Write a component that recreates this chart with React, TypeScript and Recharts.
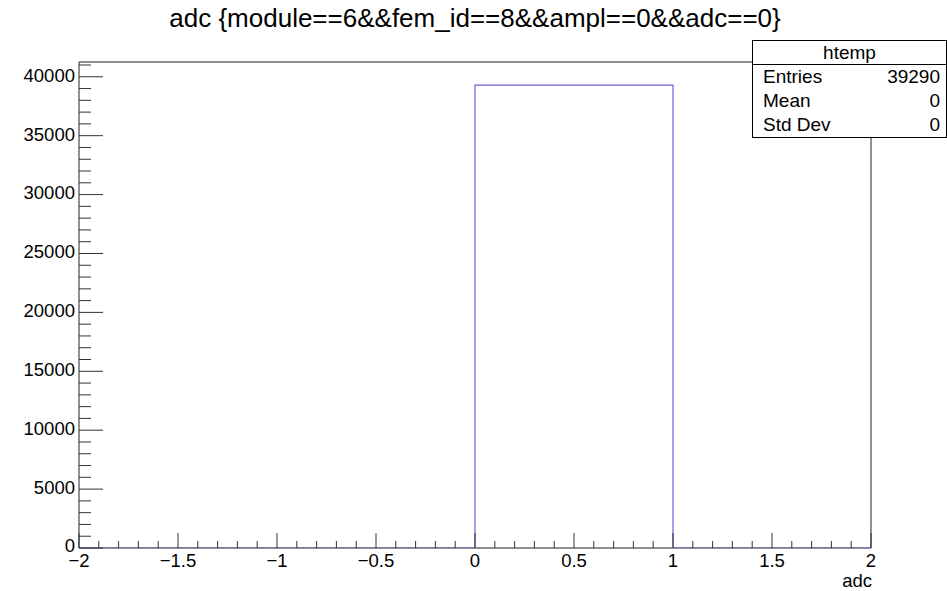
import React from "react";
import {
  ComposedChart,
  Line,
  XAxis,
  YAxis,
  ReferenceArea,
} from "recharts";

// Histogram "htemp": bin edges and counts
const binEdges = [-2, -1, 0, 1, 2];
const binCounts = [0, 0, 39290, 0, 0];

// Axis tick positions
const xMajorTicks = [-2, -1.5, -1, -0.5, 0, 0.5, 1, 1.5, 2];
const yMajorTicks = [0, 5000, 10000, 15000, 20000, 25000, 30000, 35000, 40000];

// Statistics box
const statsTitle = "htemp";
const statsLabels = ["Entries", "Mean", "Std Dev"];
const statsValues = ["39290", "0", "0"];

const chartTitle = "adc {module==6&&fem_id==8&&ampl==0&&adc==0}";
const xAxisTitle = "adc";

const X_MIN = -2;
const X_MAX = 2;
const Y_MAX = 41254.5;

const FONT = "'Liberation Sans', Arial, Helvetica, sans-serif";
const LINE_COLOR = "#6a60d6";

const histData = binEdges.map((x, i) => ({ x, count: binCounts[i] }));

// minor ticks every 0.1 on x and every 1000 on y
const xTicks: number[] = [];
for (let i = 0; i <= 40; i++) xTicks.push(Math.round((X_MIN + i * 0.1) * 10) / 10);
const yTicks: number[] = [];
for (let v = 0; v <= 41000; v += 1000) yTicks.push(v);

const isMajorX = (v: number) => xMajorTicks.some((m) => Math.abs(m - v) < 1e-6);
const isMajorY = (v: number) => yMajorTicks.includes(v);

const fmtX = (v: number) => (v < 0 ? "\u2212" + String(Math.abs(v)) : String(v));

const XTick = (props: any) => {
  const { x, y, payload } = props;
  const major = isMajorX(payload.value);
  return (
    <g>
      <line x1={x} x2={x} y1={y} y2={y - (major ? 15 : 7)} stroke="#333" strokeWidth={1} />
      {major && (
        <text
          x={x}
          y={y + 14}
          textAnchor="middle"
          fontSize={18.5}
          fontFamily={FONT}
          fill="#000"
          dominantBaseline="middle"
        >
          {fmtX(payload.value)}
        </text>
      )}
    </g>
  );
};

const YTick = (props: any) => {
  const { x, y, payload } = props;
  const major = isMajorY(payload.value);
  return (
    <g>
      <line x1={x} x2={x + (major ? 24 : 12)} y1={y} y2={y} stroke="#333" strokeWidth={1} />
      {major && (
        <text
          x={x - 4}
          y={payload.value === 0 ? y - 1 : y}
          textAnchor="end"
          fontSize={18.5}
          fontFamily={FONT}
          fill="#000"
          dominantBaseline="middle"
        >
          {payload.value}
        </text>
      )}
    </g>
  );
};

export default function App() {
  return (
    <div
      style={{
        position: "absolute",
        left: 0,
        top: 0,
        width: 947,
        height: 591,
        background: "#fff",
        fontFamily: FONT,
        overflow: "hidden",
      }}
    >
      <ComposedChart
        width={947}
        height={591}
        data={histData}
        margin={{ top: 62, right: 76, bottom: 0, left: 0 }}
      >
        <XAxis
          dataKey="x"
          type="number"
          domain={[X_MIN, X_MAX]}
          ticks={xTicks}
          interval={0}
          tick={<XTick />}
          tickLine={false}
          tickSize={0}
          tickMargin={0}
          axisLine={false}
          height={43}
          allowDataOverflow
        />
        <YAxis
          type="number"
          domain={[0, Y_MAX]}
          ticks={yTicks}
          interval={0}
          tick={<YTick />}
          tickLine={false}
          tickSize={0}
          tickMargin={0}
          axisLine={false}
          width={79}
          allowDataOverflow
        />
        <ReferenceArea
          x1={X_MIN}
          x2={X_MAX}
          y1={0}
          y2={Y_MAX}
          fill="none"
          stroke="#222"
          strokeWidth={1}
          ifOverflow="visible"
        />
        <Line
          dataKey="count"
          type="stepAfter"
          stroke={LINE_COLOR}
          strokeWidth={1.2}
          dot={false}
          activeDot={false}
          isAnimationActive={false}
        />
      </ComposedChart>

      {/* title */}
      <div
        style={{
          position: "absolute",
          left: 0,
          width: 950,
          top: 3,
          textAlign: "center",
          fontSize: 26,
          lineHeight: "30px",
          color: "#000",
          whiteSpace: "nowrap",
        }}
      >
        {chartTitle}
      </div>

      {/* x axis title */}
      <div
        style={{
          position: "absolute",
          right: 947 - 872,
          top: 570,
          fontSize: 18.5,
          lineHeight: "22px",
          color: "#000",
        }}
      >
        {xAxisTitle}
      </div>

      {/* statistics box */}
      <div
        style={{
          position: "absolute",
          left: 752,
          top: 40,
          width: 193,
          height: 96,
          border: "1px solid #000",
          background: "#fff",
          boxSizing: "content-box",
          color: "#000",
          fontSize: 19,
        }}
      >
        <div
          style={{
            height: 23,
            lineHeight: "23px",
            textAlign: "center",
            borderBottom: "1px solid #000",
          }}
        >
          {statsTitle}
        </div>
        {statsLabels.map((label, i) => (
          <div
            key={label}
            style={{
              display: "flex",
              justifyContent: "space-between",
              height: 24,
              lineHeight: "24px",
              paddingLeft: 10,
              paddingRight: 6,
            }}
          >
            <span>{label}</span>
            <span>{statsValues[i]}</span>
          </div>
        ))}
      </div>
    </div>
  );
}
